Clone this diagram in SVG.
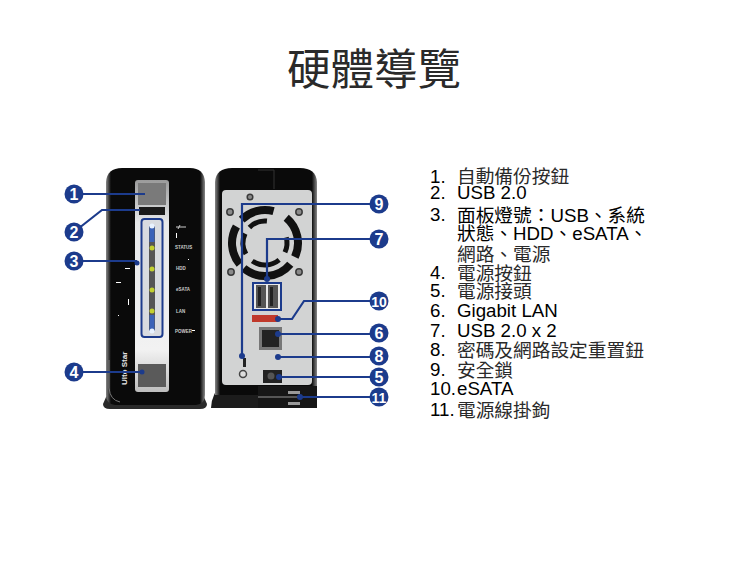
<svg xmlns="http://www.w3.org/2000/svg" width="748" height="561" viewBox="0 0 748 561">
<style>
text{font-family:"Liberation Sans","Noto Sans CJK TC",sans-serif;fill:#000}
.t{font-size:18.7px}
text.z{fill:#2a2a2a}
.b circle{fill:#1c3b8c}
.b text{font-size:16px;font-weight:bold;fill:#fff;text-anchor:middle}
.c path{fill:none;stroke:#1c3b8c;stroke-width:2.200}
.c circle{fill:#1c3b8c}
.s{font-size:4.500px;font-weight:bold;fill:#ccc}
.h{fill:none;stroke:#111}
.sc{fill:#8a8a8a;stroke:#3a3a3a;stroke-width:1.500}
.w{fill:#fff}
</style>
<defs>
<linearGradient id="g" x1="0" y1="0" x2="0" y2="1"><stop offset="0" stop-color="#9a9a9a"/><stop offset=".2" stop-color="#e6e8ea"/><stop offset=".8" stop-color="#f2f2f2"/><stop offset="1" stop-color="#bdbdbd"/></linearGradient>
<linearGradient id="bk" x1="0" y1="0" x2="1" y2="0"><stop offset="0" stop-color="#888"/><stop offset=".05" stop-color="#0a0a0a"/><stop offset=".95" stop-color="#0a0a0a"/><stop offset="1" stop-color="#888"/></linearGradient>
</defs>
<rect width="748" height="561" fill="#fff"/>
<text class="z" x="287" y="85" font-size="43.500">硬體導覽</text>

<g id="front-unit">
<path d="M103 404L110 388H200L207 404Q207 409 200 409H110Q103 409 103 404Z" fill="#2a2a2a"/>
<path d="M106 182Q107 168 122 168H190Q204 168 205 182V395Q205 404 196 405H115Q106 404 106 395Z" fill="url(#bk)"/>
<path d="M109 360V388Q110 400 120 402" fill="none" stroke="#777" stroke-width="1"/>
<rect x="135" y="180" width="34" height="212" rx="3" fill="url(#g)"/>
<rect x="138" y="183" width="28" height="22" fill="#7a7a7a"/>
<rect x="139" y="207" width="26" height="8" fill="#1a1a1a"/>
<rect x="141.500" y="219" width="21" height="118" rx="3" fill="#d8dbe0" stroke="#1c3b8c" stroke-width="2"/>
<rect x="149" y="226" width="6" height="105" rx="2" fill="#555"/>
<rect x="149.500" y="226" width="5" height="16" fill="#3a62b8"/>
<rect x="149.500" y="315" width="5" height="16" fill="#3a62b8"/>
<circle cx="152" cy="226" r="2.500" fill="#e8f2ff"/>
<circle cx="152" cy="331" r="2.500" fill="#e8f2ff"/>
<circle cx="152" cy="248" r="2.500" fill="#c2d030"/>
<circle cx="152" cy="269" r="2.500" fill="#c2d030"/>
<circle cx="152" cy="290" r="2.500" fill="#c2d030"/>
<circle cx="152" cy="311" r="2.500" fill="#c2d030"/>
<rect x="138" y="364" width="28" height="23" fill="#5a5a5a"/>
<text class="s" x="175" y="249">STATUS</text>
<text class="s" x="176" y="270">HDD</text>
<text class="s" x="176" y="291">eSATA</text>
<text class="s" x="176" y="313">LAN</text>
<text class="s" x="175" y="333">POWER</text>
<path d="M176 227H186M180 225L178 229" stroke="#ccc" fill="none"/>
<text transform="translate(127 385) rotate(-90)" font-size="8" font-weight="bold" style="fill:#e6e6e6">Ulto Star</text>
<rect class="w" x="125" y="268" width="5" height="1"/>
<rect class="w" x="116" y="282" width="5" height="1"/>
<rect class="w" x="128" y="299" width="1" height="6"/>
<rect class="w" x="118" y="315" width="1" height="1"/>
<rect class="w" x="192" y="330" width="3" height="1"/>
<rect class="w" x="176" y="233" width="1" height="5"/>
<rect class="w" x="188" y="259" width="1" height="1"/>
</g>

<g id="rear-unit">
<path d="M211 408Q212 392 222 385H312L317 408Z" fill="#1c1c1c"/>
<path d="M215 182Q216 168 232 168H300Q316 168 317 182V395H215Z" fill="url(#bk)"/>
<path d="M258 170H274V189" fill="none" stroke="#333" stroke-width="1"/>
<path d="M222 194Q222 190 226 190H308Q312 190 312 194V381Q312 385 308 385H226Q222 385 222 381Z" fill="#d2d3d3"/>
<path d="M258 386H317V408H258Z" fill="#161616"/>
<rect x="258" y="396" width="42" height="2" fill="#555"/>
<rect x="288" y="391" width="12" height="3" fill="#999"/>
<rect x="288" y="402" width="12" height="3" fill="#999"/>
<circle class="sc" cx="250" cy="197" r="2.800"/>
<circle class="sc" cx="230" cy="212" r="3.200"/>
<circle class="sc" cx="299" cy="212" r="3.200"/>
<circle class="sc" cx="231" cy="272" r="3.200"/>
<circle class="sc" cx="299" cy="272" r="3.200"/>
<g class="h" stroke-width="8">
<circle cx="265" cy="243" r="33" pathLength="360" stroke-dasharray="75 285" transform="rotate(-50 265 243)"/>
<circle cx="265" cy="243" r="33" pathLength="360" stroke-dasharray="90 270" transform="rotate(40 265 243)"/>
<circle cx="265" cy="243" r="33" pathLength="360" stroke-dasharray="70 290" transform="rotate(140 265 243)"/>
<circle cx="265" cy="243" r="33" pathLength="360" stroke-dasharray="60 300" transform="rotate(225 265 243)"/>
</g>
<g class="h" stroke-width="5">
<circle cx="265" cy="243" r="22" pathLength="360" stroke-dasharray="40 320" transform="rotate(-15 265 243)"/>
<circle cx="265" cy="243" r="22" pathLength="360" stroke-dasharray="75 285" transform="rotate(50 265 243)"/>
<circle cx="265" cy="243" r="22" pathLength="360" stroke-dasharray="55 305" transform="rotate(150 265 243)"/>
<circle cx="265" cy="243" r="22" pathLength="360" stroke-dasharray="50 310" transform="rotate(225 265 243)"/>
</g>
<rect x="253" y="283" width="28" height="27" fill="#e8e8e8" stroke="#1c3b8c" stroke-width="2"/>
<rect x="256" y="285" width="10" height="23" fill="#555"/>
<rect x="268" y="285" width="10" height="23" fill="#555"/>
<rect x="258" y="287" width="3" height="19" fill="#222"/>
<rect x="270" y="287" width="3" height="19" fill="#222"/>
<rect x="252" y="315" width="26" height="7" fill="#c0392b"/>
<rect x="259" y="327" width="23" height="23" fill="#777"/>
<rect x="262" y="330" width="17" height="17" fill="#222"/>
<rect x="243" y="358" width="3" height="9" fill="#222"/>
<circle cx="243" cy="374" r="3.500" fill="#ddd" stroke="#444" stroke-width="1.500"/>
<rect x="263" y="370" width="19" height="13" fill="#222"/>
<circle cx="271" cy="376" r="3.500" fill="#555"/>
</g>

<g id="connectors" class="c">
<path d="M74 194H145"/>
<path d="M74 232L102 210H140"/>
<path d="M74 261H137"/><circle cx="137" cy="263" r="2.500"/>
<path d="M74 372H142"/><circle cx="142" cy="372" r="2.500"/>
<path d="M379 204H242V356"/><circle cx="242" cy="356" r="3"/>
<path d="M379 239H267V279"/><circle cx="267" cy="279" r="3"/>
<path d="M379 301H304L292 319H278"/><circle cx="278" cy="319" r="3"/>
<path d="M379 334H278"/><circle cx="278" cy="334" r="3"/>
<path d="M379 357H278"/><circle cx="278" cy="357" r="3"/>
<path d="M379 377H279"/><circle cx="279" cy="377" r="3"/>
<path d="M379 397H300"/><circle cx="300" cy="397" r="3"/>
</g>

<g class="b">
<g id="n1"><circle cx="74" cy="194" r="9.500"/><text x="74" y="199.800">1</text></g>
<g id="n2"><circle cx="74" cy="232" r="9.500"/><text x="74" y="237.800">2</text></g>
<g id="n3"><circle cx="74" cy="261" r="9.500"/><text x="74" y="266.800">3</text></g>
<g id="n4"><circle cx="74" cy="372" r="9.500"/><text x="74" y="377.800">4</text></g>
<g id="n9"><circle cx="379" cy="204" r="9.500"/><text x="379" y="209.800">9</text></g>
<g id="n7"><circle cx="379" cy="239" r="9.500"/><text x="379" y="244.800">7</text></g>
<g id="n10"><circle cx="379" cy="301" r="9.500"/><text x="379" y="306.500" style="font-size:14px">10</text></g>
<g id="n6"><circle cx="379" cy="333" r="9.500"/><text x="379" y="338.800">6</text></g>
<g id="n8"><circle cx="379" cy="356" r="9.500"/><text x="379" y="361.800">8</text></g>
<g id="n5"><circle cx="379" cy="377" r="9.500"/><text x="379" y="382.800">5</text></g>
<g id="n11"><circle cx="379" cy="397" r="9.500"/><text x="379" y="402.500" style="font-size:14px">11</text></g>
</g>

<g id="legend" class="t">
<text x="430" y="183">1.</text><text class="z" x="457" y="183">自動備份按鈕</text>
<text x="430" y="199">2.</text><text x="457" y="199">USB 2.0</text>
<text x="430" y="221">3.</text><text x="457" y="222">面板燈號：USB、系統</text>
<text x="457" y="240">狀態、HDD、eSATA、</text>
<text class="z" x="457" y="261">網路、電源</text>
<text x="430" y="279">4.</text><text class="z" x="457" y="280">電源按鈕</text>
<text x="430" y="297">5.</text><text class="z" x="457" y="298">電源接頭</text>
<text x="430" y="317">6.</text><text x="457" y="317">Gigabit LAN</text>
<text x="430" y="337">7.</text><text x="457" y="337">USB 2.0 x 2</text>
<text x="430" y="356">8.</text><text class="z" x="457" y="357">密碼及網路設定重置鈕</text>
<text x="430" y="376">9.</text><text class="z" x="457" y="377">安全鎖</text>
<text x="430" y="395">10.</text><text x="457" y="395">eSATA</text>
<text x="430" y="416">11.</text><text class="z" x="457" y="417">電源線掛鉤</text>
</g>
</svg>
